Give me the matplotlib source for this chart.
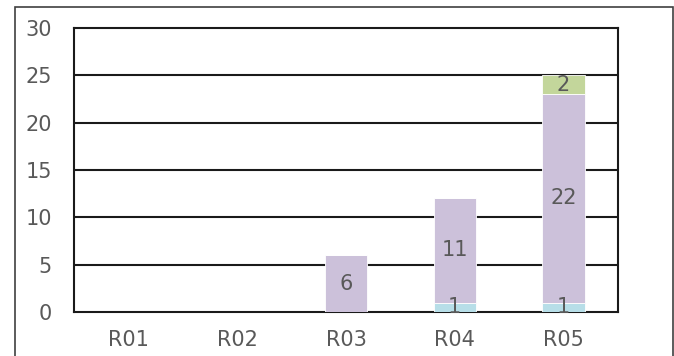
import matplotlib
matplotlib.use('Agg')
import matplotlib.pyplot as plt
from matplotlib.patches import Rectangle
import numpy as np

categories = ['R01', 'R02', 'R03', 'R04', 'R05']
blue_vals = [0, 0, 0, 1, 1]
purple_vals = [0, 0, 6, 11, 22]
green_vals = [0, 0, 0, 0, 2]

plt.rcParams['font.family'] = ['DejaVu Sans']

fig = plt.figure(figsize=(6.74, 3.56), dpi=100)
# outer chart-area frame
fig.patches.append(Rectangle((15 / 674, -0.1), 658 / 674, 1.1 - 7 / 356, transform=fig.transFigure,
                             fill=False, edgecolor='#404040', linewidth=1.2))
ax = fig.add_axes([74 / 674, 44 / 356, 544 / 674, 284 / 356])

x = np.arange(len(categories))
w = 0.39
series = [(blue_vals, '#B7DEE8'), (purple_vals, '#CCC1DA'), (green_vals, '#C3D69B')]
bottom = np.zeros(len(categories))
for vals, col in series:
    vals = np.array(vals, dtype=float)
    ax.bar(x, vals, w, bottom=bottom, color=col, zorder=3, edgecolor='white', linewidth=0.6)
    for xi, b, v in zip(x, bottom, vals):
        if v > 0:
            ax.text(xi, b + v / 2, f'{int(v)}', ha='center', va='center', fontsize=15,
                    color='#595959', zorder=4)
    bottom += vals

ax.set_ylim(0, 30)
ax.set_xlim(-0.5, len(categories) - 0.5)
ax.set_yticks(range(0, 31, 5))
ax.set_xticks(x)
ax.set_xticklabels(categories)
for y in range(5, 30, 5):
    ax.axhline(y, color='#1a1a1a', linewidth=1.5, zorder=1)
for s in ax.spines.values():
    s.set_color('#1a1a1a')
    s.set_linewidth(1.5)
ax.tick_params(length=0, labelsize=15, labelcolor='#595959')
ax.tick_params(axis='y', pad=16)
ax.tick_params(axis='x', pad=13)

fig.savefig('out.png', dpi=100)
